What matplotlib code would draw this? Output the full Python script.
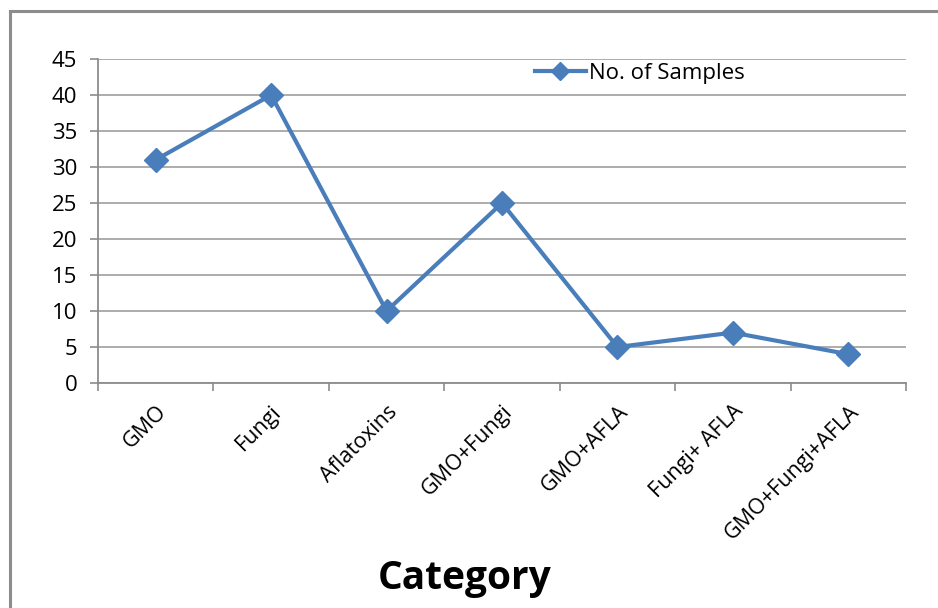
import matplotlib
matplotlib.use("Agg")
import matplotlib.pyplot as plt
from matplotlib.patches import Rectangle
import numpy as np

categories = ["GMO", "Fungi", "Aflatoxins", "GMO+Fungi", "GMO+AFLA",
              "Fungi+ AFLA", "GMO+Fungi+AFLA"]
samples = [31, 40, 10, 25, 5, 7, 4]
y_ticks = [0, 5, 10, 15, 20, 25, 30, 35, 40, 45]
series_name = "No. of Samples"
x_title = "Category"

plt.rcParams["font.family"] = ["Open Sans", "DejaVu Sans"]

W, H = 938, 608
fig = plt.figure(figsize=(W / 100, H / 100), dpi=100)
fig.patch.set_facecolor("white")

# outer chart frame
fig.patches.append(Rectangle((10 / W, -0.05), 1.2, (H - 11) / H + 0.05,
                             transform=fig.transFigure, fill=False,
                             edgecolor="#8c8c8c", linewidth=2.2))

ax = fig.add_axes([98 / W, (H - 383) / H, 808 / W, 324 / H])
x = np.arange(len(categories))
blue = "#4a7ebb"
ax.plot(x, samples, color=blue, linewidth=3.0, marker="D", markersize=12,
        markerfacecolor=blue, markeredgecolor=blue, label=series_name,
        zorder=3, clip_on=False)

ax.set_xlim(-0.5, len(categories) - 0.5)
ax.set_ylim(0, 45)
ax.set_yticks(y_ticks)
ax.yaxis.grid(True, color="#a6a6a6", linewidth=1.3)
ax.set_axisbelow(True)

ax.set_xticks(np.arange(-0.5, len(categories)), labels=[])
ax.set_xticks(x, minor=True)
ax.set_xticklabels(categories, minor=True, rotation=45, ha="right",
                   va="top", rotation_mode="anchor", fontsize=15.5)
ax.tick_params(axis="x", which="minor", length=0, pad=13)
ax.tick_params(axis="x", which="major", length=6, color="#8c8c8c", width=1.2)
ax.tick_params(axis="y", length=6, color="#8c8c8c", width=1.2,
               labelsize=16, pad=9)

for s in ["top", "right"]:
    ax.spines[s].set_visible(False)
for s in ["left", "bottom"]:
    ax.spines[s].set_color("#8c8c8c")
    ax.spines[s].set_linewidth(1.3)

leg = ax.legend(loc="upper left", bbox_to_anchor=(428 / 808, 1.015),
                frameon=False, fontsize=16, handlelength=2.3,
                handletextpad=0.15, borderaxespad=0.0)
leg.legend_handles[0].set_markersize(9)

fig.text(465 / W, (H - 578) / H, x_title, fontsize=28, fontweight="bold",
         ha="center", va="center")

fig.savefig("out.png", dpi=100, facecolor="white")
